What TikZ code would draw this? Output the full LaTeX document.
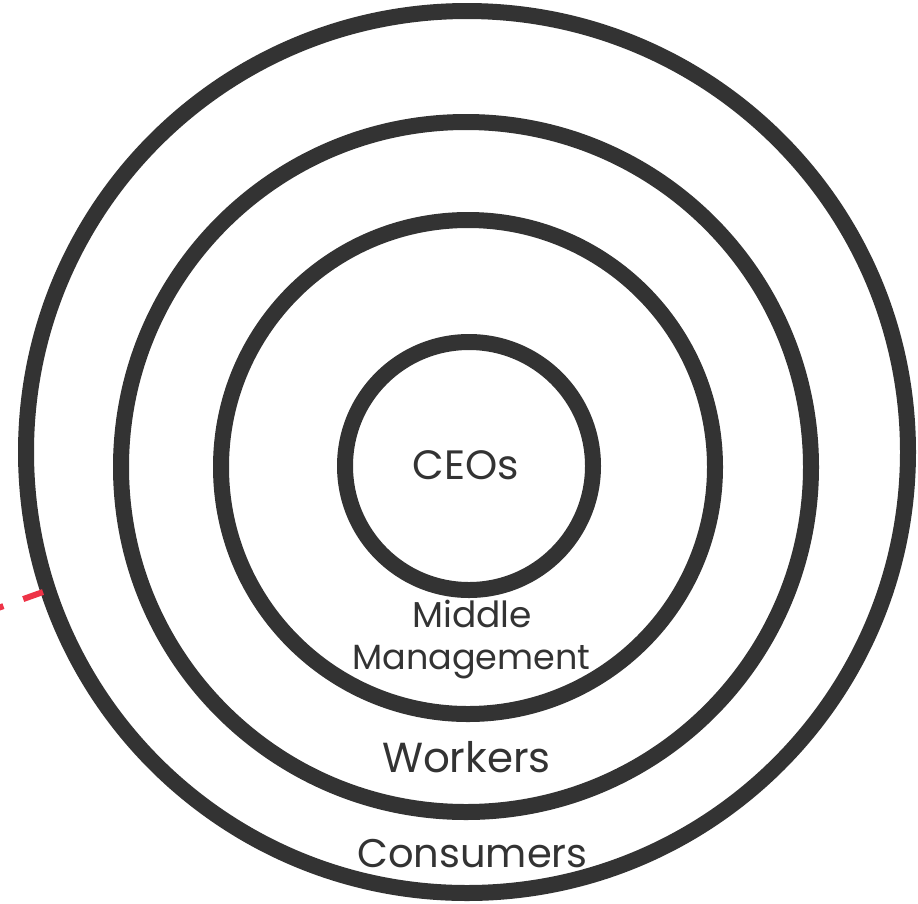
\documentclass[tikz,border=0pt]{standalone}
\usepackage{fontspec}
\setmainfont{Poppins}
\definecolor{ink}{HTML}{333333}
\definecolor{redline}{HTML}{EE3347}
\tikzset{
  ring/.style={draw=ink, line width=16pt},
  lbl/.style={anchor=base, text=ink, inner sep=0pt},
  conn/.style={draw=redline, line width=6pt, dash pattern=on 21pt off 21pt}
}
\begin{document}
\begin{tikzpicture}[x=1pt,y=-1pt]
\useasboundingbox (0,0) rectangle (918,903);
\clip (0,0) rectangle (918,903);
\draw[ring] (467,452) circle[radius=441];
\draw[ring] (466,467) circle[radius=345];
\draw[ring] (468,467) circle[radius=247];
\draw[ring] (469,466) circle[radius=124];
\node[lbl, font=\fontsize{41}{45}\selectfont] (ceo) at (466,479) {CEOs};
\node[lbl, font=\fontsize{36}{40}\selectfont] (mid1) at (472,627) {Middle};
\node[lbl, font=\fontsize{35}{40}\selectfont] (mid2) at (471.5,669) {Management};
\node[lbl, font=\fontsize{42}{46}\selectfont] (wrk) at (466.5,772) {Workers};
\node[lbl, font=\fontsize{40}{45}\selectfont] (con) at (472.5,867) {Consumers};
\coordinate (edge) at (43,592);
\coordinate (free) at (-30,618);
\draw[conn] (edge) -- (free);
\end{tikzpicture}
\end{document}
